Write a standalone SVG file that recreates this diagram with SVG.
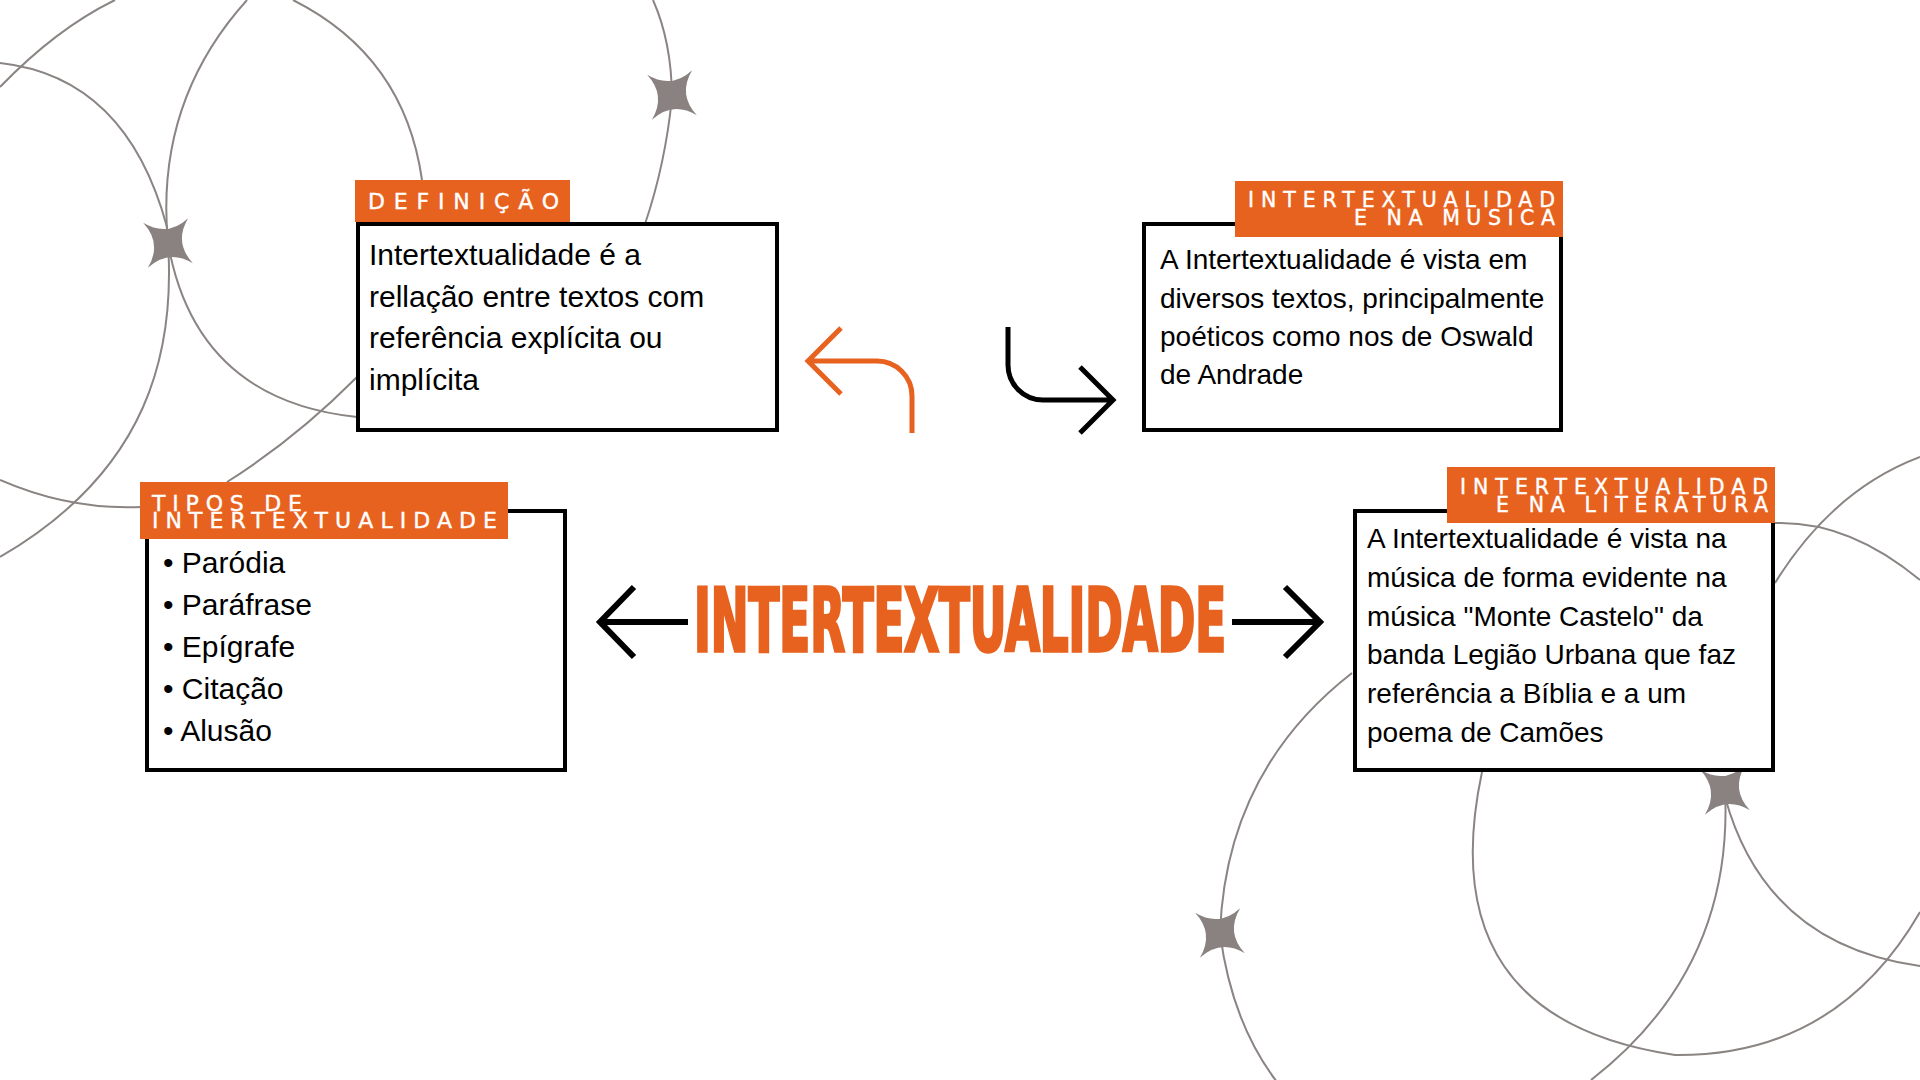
<svg xmlns="http://www.w3.org/2000/svg" width="1920" height="1080" viewBox="0 0 1920 1080">
<style>
.arc{fill:none;stroke:#8a8482;stroke-width:2}
.star{fill:#8a8280}
.box{fill:#fff;stroke:#000;stroke-width:4}
.lab{fill:#e8621f}
.lt{fill:#fff;stroke:#fff;stroke-width:0.4;font-family:'DejaVu Sans',Inter,sans-serif;font-weight:normal}
.body{fill:#000;font-family:'Liberation Sans',Arial,sans-serif}
.title{fill:#e8621f;font-family:'DejaVu Sans Condensed','DejaVu Sans',sans-serif;font-weight:bold;font-stretch:condensed}
.ln{fill:none;stroke-linejoin:miter;stroke-linecap:butt}
</style>
<defs>
<path id="st" d="M0,-32 Q4,-4 32,0 Q4,4 0,32 Q-4,4 -32,0 Q-4,-4 0,-32Z"/>
</defs>
<rect width="1920" height="1080" fill="#fff"/>
<g id="decor">
<path class="arc" d="M115,0 Q56.5,28.5 0,87"/>
<path class="arc" d="M0,63 Q126.5,77 167,227 L168,243 C175,350 150,470 0,557"/>
<path class="arc" d="M247,0 Q154.5,102.5 168,243 Q195.5,400 357,417"/>
<path class="arc" d="M293,0 Q404.5,56 422,180"/>
<path class="arc" d="M357,377 Q296,438.5 227,482"/>
<path class="arc" d="M0,480 Q70,510.5 142,507"/>
<path class="arc" d="M653,0 Q671.5,41.5 672,97 Q665.5,163.5 645,224"/>
<path class="arc" d="M1352,673 Q1226,771 1220,933 Q1231.5,1022.5 1277,1082"/>
<path class="arc" d="M1482,772 Q1429.5,1018.5 1675,1055 Q1836.5,1056.5 1920,912"/>
<path class="arc" d="M1725,790 Q1734,969 1591,1080"/>
<path class="arc" d="M1725,797 Q1765.5,944.5 1920,966"/>
<path class="arc" d="M1775,583 Q1832.5,490 1920,457"/>
<path class="arc" d="M1775,523 Q1848.5,520.5 1920,580"/>
<use href="#st" class="star" transform="translate(168,243) rotate(39)"/>
<use href="#st" class="star" transform="translate(672,95) rotate(39)"/>
<use href="#st" class="star" transform="translate(1725,790) rotate(39)"/>
<use href="#st" class="star" transform="translate(1220,933) rotate(39)"/>
</g>
<g id="node-definicao">
<rect class="box" x="358" y="224" width="419" height="206"/>
<rect class="lab" x="355" y="180" width="215" height="42"/>
<text class="lt" x="368" y="209" font-size="22" textLength="191" lengthAdjust="spacing">DEFINIÇÃO</text>
<text class="body" font-size="30"><tspan x="369" y="265">Intertextualidade é a</tspan><tspan x="369" y="307">rellação entre textos com</tspan><tspan x="369" y="348">referência explícita ou</tspan><tspan x="369" y="390">implícita</tspan></text>
</g>
<g id="node-musica">
<rect class="box" x="1144" y="224" width="417" height="206"/>
<rect class="lab" x="1235" y="181" width="328" height="56"/>
<text class="lt" font-size="20.5"><tspan x="1248" y="207" textLength="307" lengthAdjust="spacing">INTERTEXTUALIDAD</tspan></text>
<text class="lt" font-size="20.5"><tspan x="1354" y="225" textLength="201" lengthAdjust="spacing">E NA MUSICA</tspan></text>
<text class="body" font-size="28"><tspan x="1160" y="269">A Intertextualidade é vista em</tspan><tspan x="1160" y="308">diversos textos, principalmente</tspan><tspan x="1160" y="346">poéticos como nos de Oswald</tspan><tspan x="1160" y="384">de Andrade</tspan></text>
</g>
<g id="node-tipos">
<rect class="box" x="147" y="511" width="418" height="259"/>
<rect class="lab" x="140" y="482" width="368" height="57"/>
<text class="lt" font-size="22"><tspan x="152" y="511" textLength="150" lengthAdjust="spacing">TIPOS DE</tspan></text>
<text class="lt" font-size="22"><tspan x="152" y="528" textLength="345" lengthAdjust="spacing">INTERTEXTUALIDADE</tspan></text>
<text class="body" font-size="30"><tspan x="163" y="573">• Paródia</tspan><tspan x="163" y="615">• Paráfrase</tspan><tspan x="163" y="657">• Epígrafe</tspan><tspan x="163" y="699">• Citação</tspan><tspan x="163" y="741">• Alusão</tspan></text>
</g>
<g id="node-literatura">
<rect class="box" x="1355" y="511" width="418" height="259"/>
<rect class="lab" x="1447" y="467" width="328" height="56"/>
<text class="lt" font-size="20.5"><tspan x="1460" y="494" textLength="308" lengthAdjust="spacing">INTERTEXTUALIDAD</tspan></text>
<text class="lt" font-size="20.5"><tspan x="1496" y="512" textLength="272" lengthAdjust="spacing">E NA LITERATURA</tspan></text>
<text class="body" font-size="28"><tspan x="1367" y="548">A Intertextualidade é vista na</tspan><tspan x="1367" y="587">música de forma evidente na</tspan><tspan x="1367" y="626">música "Monte Castelo" da</tspan><tspan x="1367" y="664">banda Legião Urbana que faz</tspan><tspan x="1367" y="703">referência a Bíblia e a um</tspan><tspan x="1367" y="742">poema de Camões</tspan></text>
</g>
<g id="node-central">
<text class="title" x="694" y="651" font-size="88" textLength="532" lengthAdjust="spacingAndGlyphs" stroke="#e8621f" stroke-width="3.5">INTERTEXTUALIDADE</text>
</g>
<g id="connectors">
<path class="ln" stroke="#000" stroke-width="6" d="M600,622 H688 M634,587 L600,622 L634,657"/>
<path class="ln" stroke="#000" stroke-width="6" d="M1232,622 H1320 M1285,587 L1320,622 L1285,657"/>
<path class="ln" stroke="#e8621f" stroke-width="5" d="M912,433 V396 A35,35 0 0 0 877,361 H808 M841,328 L808,361 L841,394"/>
<path class="ln" stroke="#000" stroke-width="5" d="M1008,327 V365 A35,35 0 0 0 1043,400 H1111 M1080,367 L1113,400 L1080,433"/>
</g>
</svg>
